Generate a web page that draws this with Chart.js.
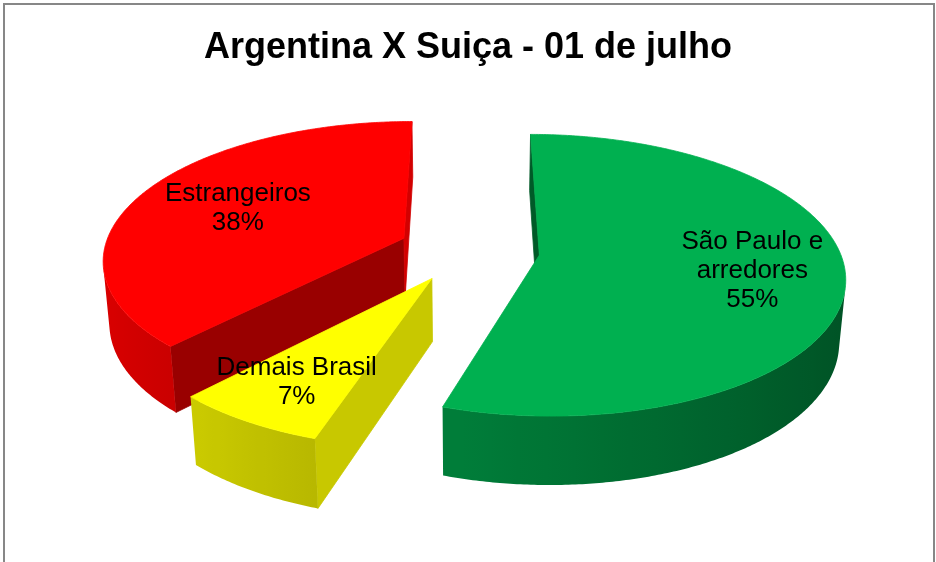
<!DOCTYPE html>
<html>
<head>
<meta charset="utf-8">
<script src="https://cdn.jsdelivr.net/npm/chart.js@4.4.0/dist/chart.umd.min.js"></script>
<style>
  html, body { margin: 0; padding: 0; background: #fff; overflow: hidden; }
  #wrap { width: 936px; height: 562px; position: relative; }
</style>
</head>
<body>
<div id="wrap"><canvas id="pieChart" width="936" height="562"></canvas></div>
<script>
    // dados do grafico
    const categories = [['São Paulo e', 'arredores'], 'Demais Brasil', 'Estrangeiros'];
    const values = [55, 7, 38];
    const topColors = ['#00B050', '#FFFF00', '#FF0000'];
    const startFaceColors = ['#005A28', '#C8C800', '#990000'];
    const endFaceColors = ['#004A22', '#A0A000', '#D20000'];

    // geometria 3D (perspectiva)
    const RX = 300;              // px por raio
    const CX = 469, CY = 250;    // centro da pizza na tela
    const TILT = Math.asin(0.455);
    const CAM = 6.25;            // distancia da camera em raios
    const DEPTH = 0.235;         // espessura em raios
    const labelFrac = [0.7, 0.755, 0.63];

    function project(u, w, h) {
        const yc = h * Math.cos(TILT) - w * Math.sin(TILT);
        const zc = h * Math.sin(TILT) + w * Math.cos(TILT);
        const s = CAM / (CAM - zc);
        return [CX + RX * u * s, CY - RX * yc * s];
    }

    function shade(hex, f) {
        const n = parseInt(hex.slice(1), 16);
        const r = Math.min(255, Math.round(((n >> 16) & 255) * f));
        const g = Math.min(255, Math.round(((n >> 8) & 255) * f));
        const b = Math.min(255, Math.round((n & 255) * f));
        return 'rgb(' + r + ',' + g + ',' + b + ')';
    }

    function poly(ctx, pts, color) {
        ctx.beginPath();
        ctx.moveTo(pts[0][0], pts[0][1]);
        for (let k = 1; k < pts.length; k++) ctx.lineTo(pts[k][0], pts[k][1]);
        ctx.closePath();
        ctx.fillStyle = color;
        ctx.strokeStyle = color;
        ctx.lineWidth = 0.8;
        ctx.fill();
        ctx.stroke();
    }

    function sliceGeom(el) {
        const off = el.options.offset / el.outerRadius;
        const mid = (el.startAngle + el.endAngle) / 2;
        return { a0: el.startAngle, a1: el.endAngle, mid: mid,
                 cu: off * Math.cos(mid), cw: off * Math.sin(mid) };
    }

    function drawSlice(ctx, el, i) {
        const g = sliceGeom(el);
        const camW = CAM * Math.cos(TILT);
        const rim = a => [g.cu + Math.cos(a), g.cw + Math.sin(a)];

        // faces de corte
        const faces = [
            [g.a0, startFaceColors[i], [Math.sin(g.a0), -Math.cos(g.a0)]],
            [g.a1, endFaceColors[i], [-Math.sin(g.a1), Math.cos(g.a1)]]
        ];
        faces.forEach(function (fc) {
            const nrm = fc[2];
            if (nrm[0] * (0 - g.cu) + nrm[1] * (camW - g.cw) <= 0) return;
            const r = rim(fc[0]);
            poly(ctx, [project(g.cu, g.cw, 0), project(r[0], r[1], 0),
                       project(r[0], r[1], -DEPTH), project(g.cu, g.cw, -DEPTH)], fc[1]);
        });

        // lateral externa (parte visivel, com degrade)
        const n = Math.max(2, Math.ceil((g.a1 - g.a0) / 0.01));
        const vis = [];
        for (let k = 0; k <= n; k++) {
            const b = g.a0 + (g.a1 - g.a0) * k / n;
            const p = rim(b);
            if (Math.cos(b) * (0 - p[0]) + Math.sin(b) * (camW - p[1]) > 0) vis.push(b);
        }
        if (vis.length > 1) {
            const topPts = vis.map(b => { const p = rim(b); return project(p[0], p[1], 0); });
            const botPts = vis.map(b => { const p = rim(b); return project(p[0], p[1], -DEPTH); }).reverse();
            const xs = topPts.map(p => p[0]);
            const xmin = Math.min.apply(null, xs), xmax = Math.max.apply(null, xs);
            const grad = ctx.createLinearGradient(xmin, 0, xmax, 0);
            const step = Math.max(1, Math.floor(vis.length / 20));
            for (let k = 0; k < vis.length; k += step) {
                const t = (xs[k] - xmin) / Math.max(1, xmax - xmin);
                grad.addColorStop(Math.min(1, Math.max(0, t)), shade(topColors[i], 0.66 - 0.2 * Math.cos(vis[k])));
            }
            const pts = topPts.concat(botPts);
            ctx.beginPath();
            ctx.moveTo(pts[0][0], pts[0][1]);
            for (let k = 1; k < pts.length; k++) ctx.lineTo(pts[k][0], pts[k][1]);
            ctx.closePath();
            ctx.fillStyle = grad;
            ctx.fill();
        }

        // topo
        const top = [project(g.cu, g.cw, 0)];
        for (let k = 0; k <= n; k++) {
            const p = rim(g.a0 + (g.a1 - g.a0) * k / n);
            top.push(project(p[0], p[1], 0));
        }
        poly(ctx, top, topColors[i]);
    }

    const pie3d = {
        id: 'pie3d',
        beforeDraw(chart) {
            const ctx = chart.ctx;
            ctx.save();
            ctx.strokeStyle = '#878787';
            ctx.lineWidth = 2;
            ctx.strokeRect(4, 4, 930, 600);
            ctx.restore();
        },
        beforeDatasetsDraw(chart) {
            const ctx = chart.ctx;
            const arcs = chart.getDatasetMeta(0).data;
            const total = values.reduce((a, b) => a + b, 0);
            const order = arcs.map((el, i) => i).sort((a, b) => sliceGeom(arcs[a]).cw - sliceGeom(arcs[b]).cw);
            ctx.save();
            order.forEach(i => drawSlice(ctx, arcs[i], i));

            // rotulos
            ctx.fillStyle = '#000';
            ctx.font = '26px "Liberation Sans", Arial, sans-serif';
            ctx.textAlign = 'center';
            ctx.textBaseline = 'middle';
            arcs.forEach(function (el, i) {
                const g = sliceGeom(el);
                const f = labelFrac[i];
                const p = project(g.cu + f * Math.cos(g.mid), g.cw + f * Math.sin(g.mid), 0);
                const cat = categories[i];
                const lines = (Array.isArray(cat) ? cat.slice() : [cat]);
                lines.push(Math.round(values[i] / total * 100) + '%');
                const lh = 29;
                const y0 = p[1] - (lines.length - 1) * lh / 2;
                lines.forEach((t, k) => ctx.fillText(t, p[0], y0 + k * lh));
            });
            ctx.restore();
            return false;
        }
    };

    const ctx = document.getElementById('pieChart').getContext('2d');
    const pieChart = new Chart(ctx, {
        type: 'pie',
        data: {
            labels: categories,
            datasets: [{
                data: values,
                backgroundColor: topColors,
                borderWidth: 0,
                offset: 51
            }]
        },
        options: {
            responsive: false,
            animation: false,
            events: [],
            plugins: {
                legend: { display: false },
                tooltip: { enabled: false },
                title: {
                    display: true,
                    text: 'Argentina X Suiça - 01 de julho',
                    color: '#000',
                    font: { family: '"Liberation Sans", Arial, sans-serif', size: 36, weight: 'bold' },
                    padding: { top: 26, bottom: 10 }
                }
            }
        },
        plugins: [pie3d]
    });
</script>
</body>
</html>
